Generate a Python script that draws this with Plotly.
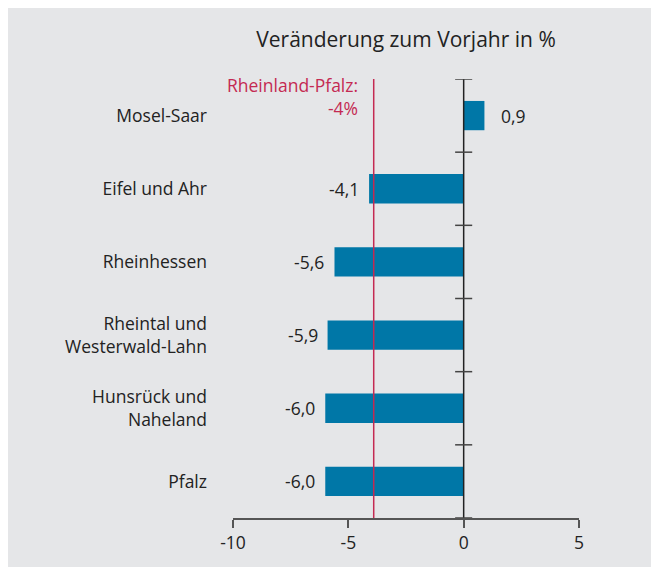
import plotly.graph_objects as go

regions = ["Mosel-Saar", "Eifel und Ahr", "Rheinhessen", "Rheintal und<br>Westerwald-Lahn",
           "Hunsrück und<br>Naheland", "Pfalz"]
changes = [0.9, -4.1, -5.6, -5.9, -6.0, -6.0]
state_avg = -3.9
state_label = "Rheinland-Pfalz:<br>-4%"
x_ticks = [-10, -5, 0, 5]
title = "Veränderung zum Vorjahr in %"

BLUE = "#0077a7"
RED = "#c42a52"
BG = "#e5e6e8"
FONT = "Open Sans"
FS = 17.5

# The page body has an 8px margin, so the figure is drawn 8px smaller/offset.
W, H = 651, 559

fig = go.Figure()
fig.add_trace(go.Bar(
    x=changes, y=regions, orientation="h", width=0.4,
    marker=dict(color=BLUE, line=dict(width=0)),
    hoverinfo="skip",
))

for r, v in zip(regions, changes):
    txt = f"{v:.1f}".replace(".", ",")
    fig.add_annotation(
        x=v, y=r, xref="x", yref="y", text=txt, showarrow=False,
        xanchor="left" if v >= 0 else "right",
        xshift=15 if v >= 0 else -8,
        font=dict(size=FS, color="#222", family=FONT),
    )

n = len(regions)
fig.add_shape(type="line", xref="x", yref="y", x0=0, x1=0, y0=-0.5, y1=n - 0.5,
              line=dict(color="#222", width=1.5))
for i in range(n + 1):
    fig.add_shape(type="line", xref="x", yref="y", x0=-0.37, x1=0.37,
                  y0=i - 0.5, y1=i - 0.5, line=dict(color="#444", width=1.5))

fig.add_shape(type="line", xref="x", yref="y", x0=state_avg, x1=state_avg,
              y0=-0.5, y1=n - 0.5, line=dict(color=RED, width=1.5))
fig.add_annotation(x=state_avg, y=-0.5, xref="x", yref="y", text=state_label,
                   showarrow=False, xanchor="right", yanchor="top", align="right",
                   xshift=-14, yshift=8,
                   font=dict(size=FS, color=RED, family=FONT))

fig.update_layout(
    width=W, height=H,
    margin=dict(l=225, r=80, t=71, b=49, autoexpand=False),
    paper_bgcolor=BG, plot_bgcolor=BG,
    showlegend=False,
    font=dict(family=FONT, size=FS, color="#222"),
    title=dict(text=title, x=0.5, xref="paper", xanchor="center",
               y=1 - 32 / H, yanchor="middle", yref="container", automargin=False,
               font=dict(size=21, color="#222", family=FONT)),
    xaxis=dict(range=[-10, 5], tickvals=x_ticks, ticktext=[str(t) for t in x_ticks],
               showgrid=False, zeroline=False, showline=True, linecolor="#555",
               linewidth=1.5, ticks="outside", ticklen=8, tickwidth=1.5, tickcolor="#555",
               automargin=False, tickfont=dict(size=FS, color="#222")),
    yaxis=dict(categoryorder="array", categoryarray=regions,
               range=[n - 0.5, -0.5], autorange=False,
               showgrid=False, zeroline=False, showline=False, ticks="",
               automargin=False,
               ticklabelstandoff=25, tickfont=dict(size=FS, color="#222")),
)

fig.write_html("out.html")
